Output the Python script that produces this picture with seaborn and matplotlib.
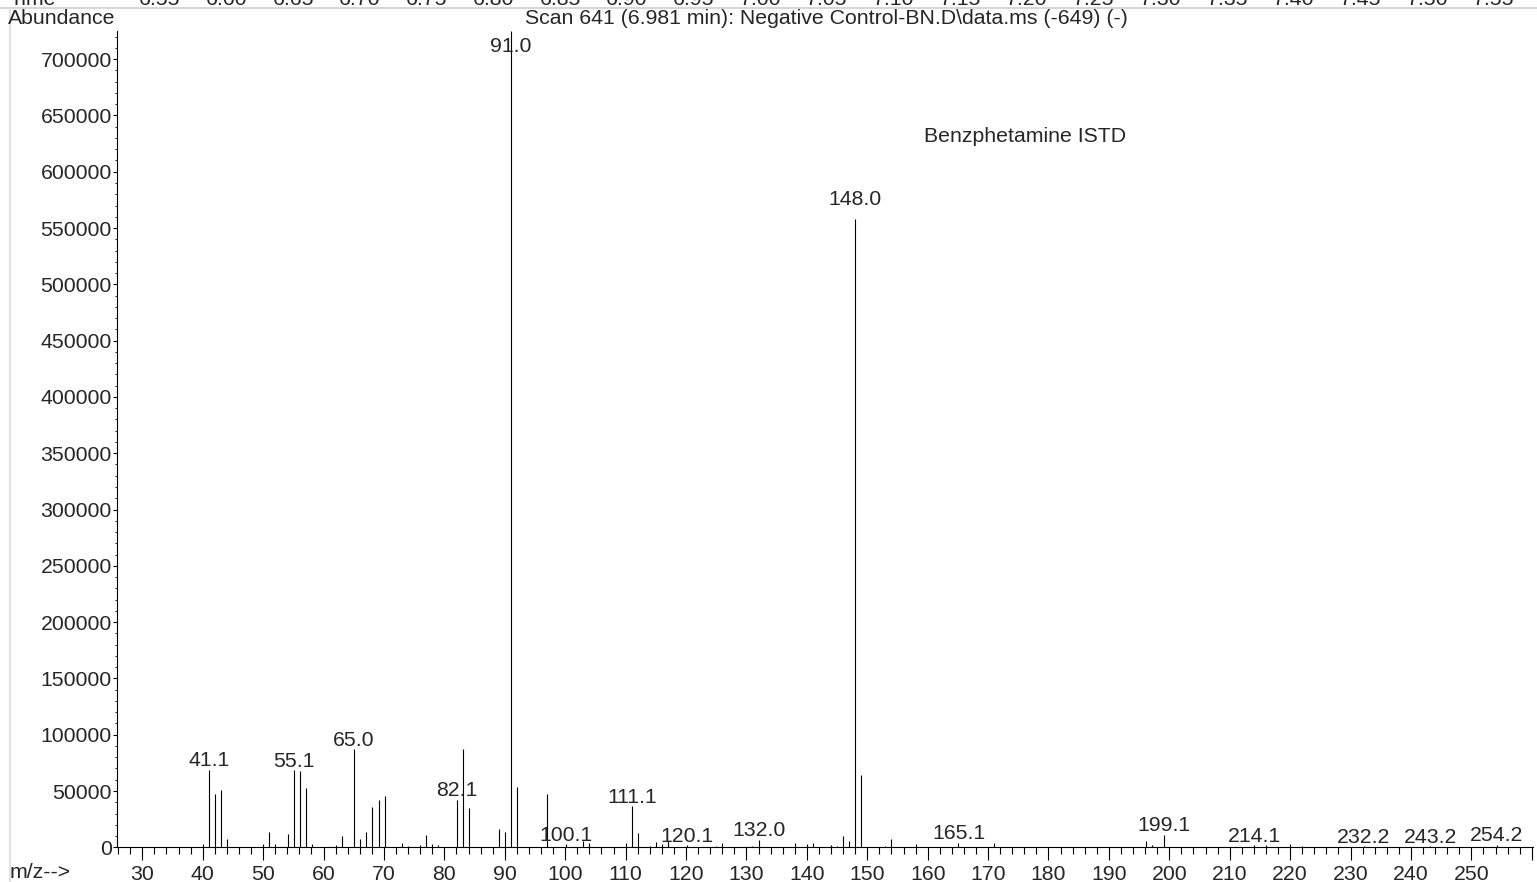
import matplotlib
matplotlib.use("Agg")
import matplotlib.pyplot as plt
from matplotlib.lines import Line2D
from matplotlib.ticker import MultipleLocator, FixedLocator, FuncFormatter
import seaborn as sns

# ---- data ----
mz = [40.0, 41.1, 42.1, 43.1, 44.1, 50.0, 51.0, 52.0, 54.1, 55.1, 56.1, 57.1, 58.1,
      62.0, 63.0, 65.0, 66.0, 67.1, 68.1, 69.1, 70.1, 73.0, 74.0, 76.0, 77.0, 78.0,
      79.0, 82.1, 83.1, 84.1, 89.0, 90.0, 91.0, 92.0, 97.0, 100.1, 103.0, 104.0,
      110.0, 111.1, 112.1, 114.0, 115.0, 116.0, 117.0, 120.1, 125.0, 126.0, 131.0,
      132.0, 138.0, 140.0, 141.0, 144.0, 145.0, 146.0, 147.0, 148.0, 149.0, 153.0,
      154.0, 158.0, 165.1, 171.0, 196.1, 197.1, 199.1, 214.1, 216.0, 220.0, 222.0,
      232.2, 243.2, 254.2]
abundance = [2700, 69000, 46900, 50700, 7500, 3000, 13400, 3000, 12000, 68400, 67800, 52500, 3000,
             2400, 9900, 87200, 7500, 13700, 35500, 42400, 45700, 3600, 1200, 2100, 10500, 3000,
             1800, 42400, 86900, 35100, 16400, 13700, 725000, 53400, 47200, 2500, 5400, 3900,
             4200, 36700, 12500, 800, 4500, 3000, 5400, 1800, 1500, 3600, 1000,
             6900, 4200, 3300, 3600, 2100, 1200, 10100, 5400, 558000, 64200, 1200,
             7000, 3000, 4000, 3800, 5600, 2400, 11000, 2000, 1800, 2500, 1500,
             1000, 800, 2400]
labeled_mz = [41.1, 55.1, 65.0, 82.1, 91.0, 100.1, 111.1, 120.1, 132.0, 148.0,
              165.1, 199.1, 214.1, 232.2, 243.2, 254.2]
y_ticks = list(range(0, 700001, 50000))
x_ticks = list(range(30, 261, 10))
x_tick_labels = [str(v) for v in range(30, 251, 10)] + [""]
time_labels = ["6.55", "6.60", "6.65", "6.70", "6.75", "6.80", "6.85", "6.90", "6.95",
               "7.00", "7.05", "7.10", "7.15", "7.20", "7.25", "7.30", "7.35", "7.40",
               "7.45", "7.50", "7.55"]
title = "Scan 641 (6.981 min): Negative Control-BN.D\\data.ms (-649) (-)"
compound = "Benzphetamine ISTD"

# ---- style ----
sns.set_style("ticks")
plt.rcParams["font.family"] = ["Liberation Sans", "DejaVu Sans"]
FS = 15.3

W, H = 1537, 882
fig = plt.figure(figsize=(W / 100, H / 100), dpi=100)
ax_l, ax_r, ax_b, ax_t = 117.3, 1533, 847.3, 31
ax = fig.add_axes([ax_l / W, (H - ax_b) / H, (ax_r - ax_l) / W, (ax_b - ax_t) / H])
ax.set_facecolor("white")

ax.vlines(mz, 0, abundance, colors="black", linewidth=0.8)

ymax = max(abundance)
for m in labeled_mz:
    h = abundance[mz.index(m)]
    txt = f"{m:.1f}"
    if h > ymax * 0.95:
        ax.annotate(txt, xy=(m, ymax), xytext=(0, -4), textcoords="offset points",
                    ha="center", va="top", fontsize=FS)
    else:
        off = 10 if h > 300000 else 2.5
        ax.annotate(txt, xy=(m, h), xytext=(0, off), textcoords="offset points",
                    ha="center", va="baseline", fontsize=FS)

ax.set_xlim(25.86, 260.2)
ax.set_ylim(0, ymax)
ax.xaxis.set_major_locator(FixedLocator(x_ticks))
ax.xaxis.set_major_formatter(FuncFormatter(lambda v, p: x_tick_labels[p] if p is not None and p < len(x_tick_labels) else ""))
ax.xaxis.set_minor_locator(MultipleLocator(2))
ax.yaxis.set_major_locator(FixedLocator(y_ticks))
ax.yaxis.set_minor_locator(MultipleLocator(10000))
ax.tick_params(axis="x", which="major", direction="out", length=9, width=0.8,
               pad=3.5, labelsize=FS, color="black")
ax.tick_params(axis="x", which="minor", direction="out", length=5, width=0.8, color="black")
ax.tick_params(axis="y", which="major", direction="out", length=3, width=0.8,
               pad=1, labelsize=FS, color="black")
ax.tick_params(axis="y", which="minor", direction="out", length=1.5, width=0.6, color="black")
sns.despine(ax=ax, top=True, right=True)
for s in ("left", "bottom"):
    ax.spines[s].set_color("black")
    ax.spines[s].set_linewidth(0.8)

ax.text((1025 - ax_l) / (ax_r - ax_l), (ax_b - 137) / (ax_b - ax_t), compound,
        transform=ax.transAxes, ha="center", va="center", fontsize=FS)

# ---- header / frame texts ----
fig.text(8 / W, 1 - 19 / H, "Abundance", ha="left", va="center", fontsize=FS)
fig.text(826 / W, 1 - 19 / H, title, ha="center", va="center", fontsize=FS)
fig.text(10 / W, 1 - 872 / H, "m/z-->", ha="left", va="center", fontsize=FS)

fig.text(10 / W, 1 - 5 / H, "Time", ha="left", va="baseline", fontsize=FS)
for k, t in enumerate(time_labels):
    fig.text((160 + 66.7 * k) / W, 1 - 5 / H, t, ha="center", va="baseline", fontsize=FS)

fig.add_artist(Line2D([0, 1], [1 - 7.5 / H, 1 - 7.5 / H], transform=fig.transFigure,
                      color="#cfcfcf", linewidth=1.2))
fig.add_artist(Line2D([10 / W, 10 / W], [0, 1 - 9 / H], transform=fig.transFigure,
                      color="#e3e3e3", linewidth=1.5))

fig.savefig("out.png", dpi=100, facecolor="white")
